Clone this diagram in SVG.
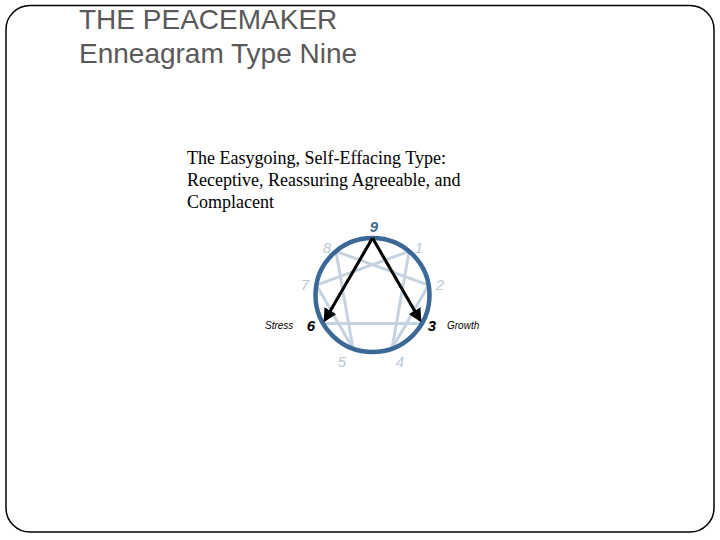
<svg xmlns="http://www.w3.org/2000/svg" width="720" height="540" viewBox="0 0 720 540">
<style>
.title{font-family:"Liberation Sans",Arial,sans-serif;font-size:28px;fill:#595959}
.body{font-family:"Liberation Serif","Times New Roman",serif;font-size:18px;fill:#000}
.num{font-family:"Liberation Sans",Arial,sans-serif;font-size:15px;font-style:italic;fill:#bac8d8;text-anchor:middle}
.key{font-weight:bold;fill:#000}
.lbl{font-family:"Liberation Sans",Arial,sans-serif;font-size:10px;font-style:italic;fill:#000}
.inner{fill:none;stroke:#c5d2df;stroke-width:3;stroke-linejoin:round}
.arrow{stroke:#000;stroke-width:3;fill:none;marker-end:url(#ah)}
</style>
<defs>
<marker id="ah" viewBox="0 0 10 10" refX="8" refY="5" markerWidth="4.5" markerHeight="4.5" orient="auto" markerUnits="strokeWidth">
<path d="M0,0 L10,5 L0,10 z" fill="#000"/>
</marker>
</defs>
<rect x="6" y="5.5" width="708" height="526.5" rx="24" ry="24" fill="#fff" stroke="#000" stroke-width="1.5"/>
<g id="title">
<text class="title" x="79" y="29">THE PEACEMAKER</text>
<text class="title" x="79" y="63">Enneagram Type Nine</text>
</g>
<g id="description">
<text class="body" x="187" y="164">The Easygoing, Self-Effacing Type:</text>
<text class="body" x="187" y="186">Receptive, Reassuring Agreeable, and</text>
<text class="body" x="187" y="208">Complacent</text>
</g>
<g id="enneagram">
<polyline class="inner" points="409.1,251.3 392,348.6 428.6,285.1 335.9,251.3 353,348.6 316.4,285.1 409.1,251.3"/>
<polygon class="inner" points="372.5,238 421.9,323.5 323.1,323.5"/>
<circle cx="372.5" cy="295" r="57" fill="none" stroke="#3b6896" stroke-width="4.5"/>
</g>
<g id="connectors">
<line class="arrow" x1="372.5" y1="238" x2="325" y2="320"/>
<line class="arrow" x1="372.5" y1="238" x2="420" y2="320"/>
</g>
<g id="labels">
<text class="num" x="374" y="232" style="fill:#3b6896;font-weight:bold">9</text>
<text class="num" x="419" y="253">1</text>
<text class="num" x="440" y="290">2</text>
<text class="num key" x="432" y="331">3</text>
<text class="num" x="400" y="367">4</text>
<text class="num" x="342" y="367">5</text>
<text class="num key" x="311" y="331">6</text>
<text class="num" x="305" y="290">7</text>
<text class="num" x="327" y="253">8</text>
<text class="lbl" x="265" y="329">Stress</text>
<text class="lbl" x="447" y="329">Growth</text>
</g>
</svg>
